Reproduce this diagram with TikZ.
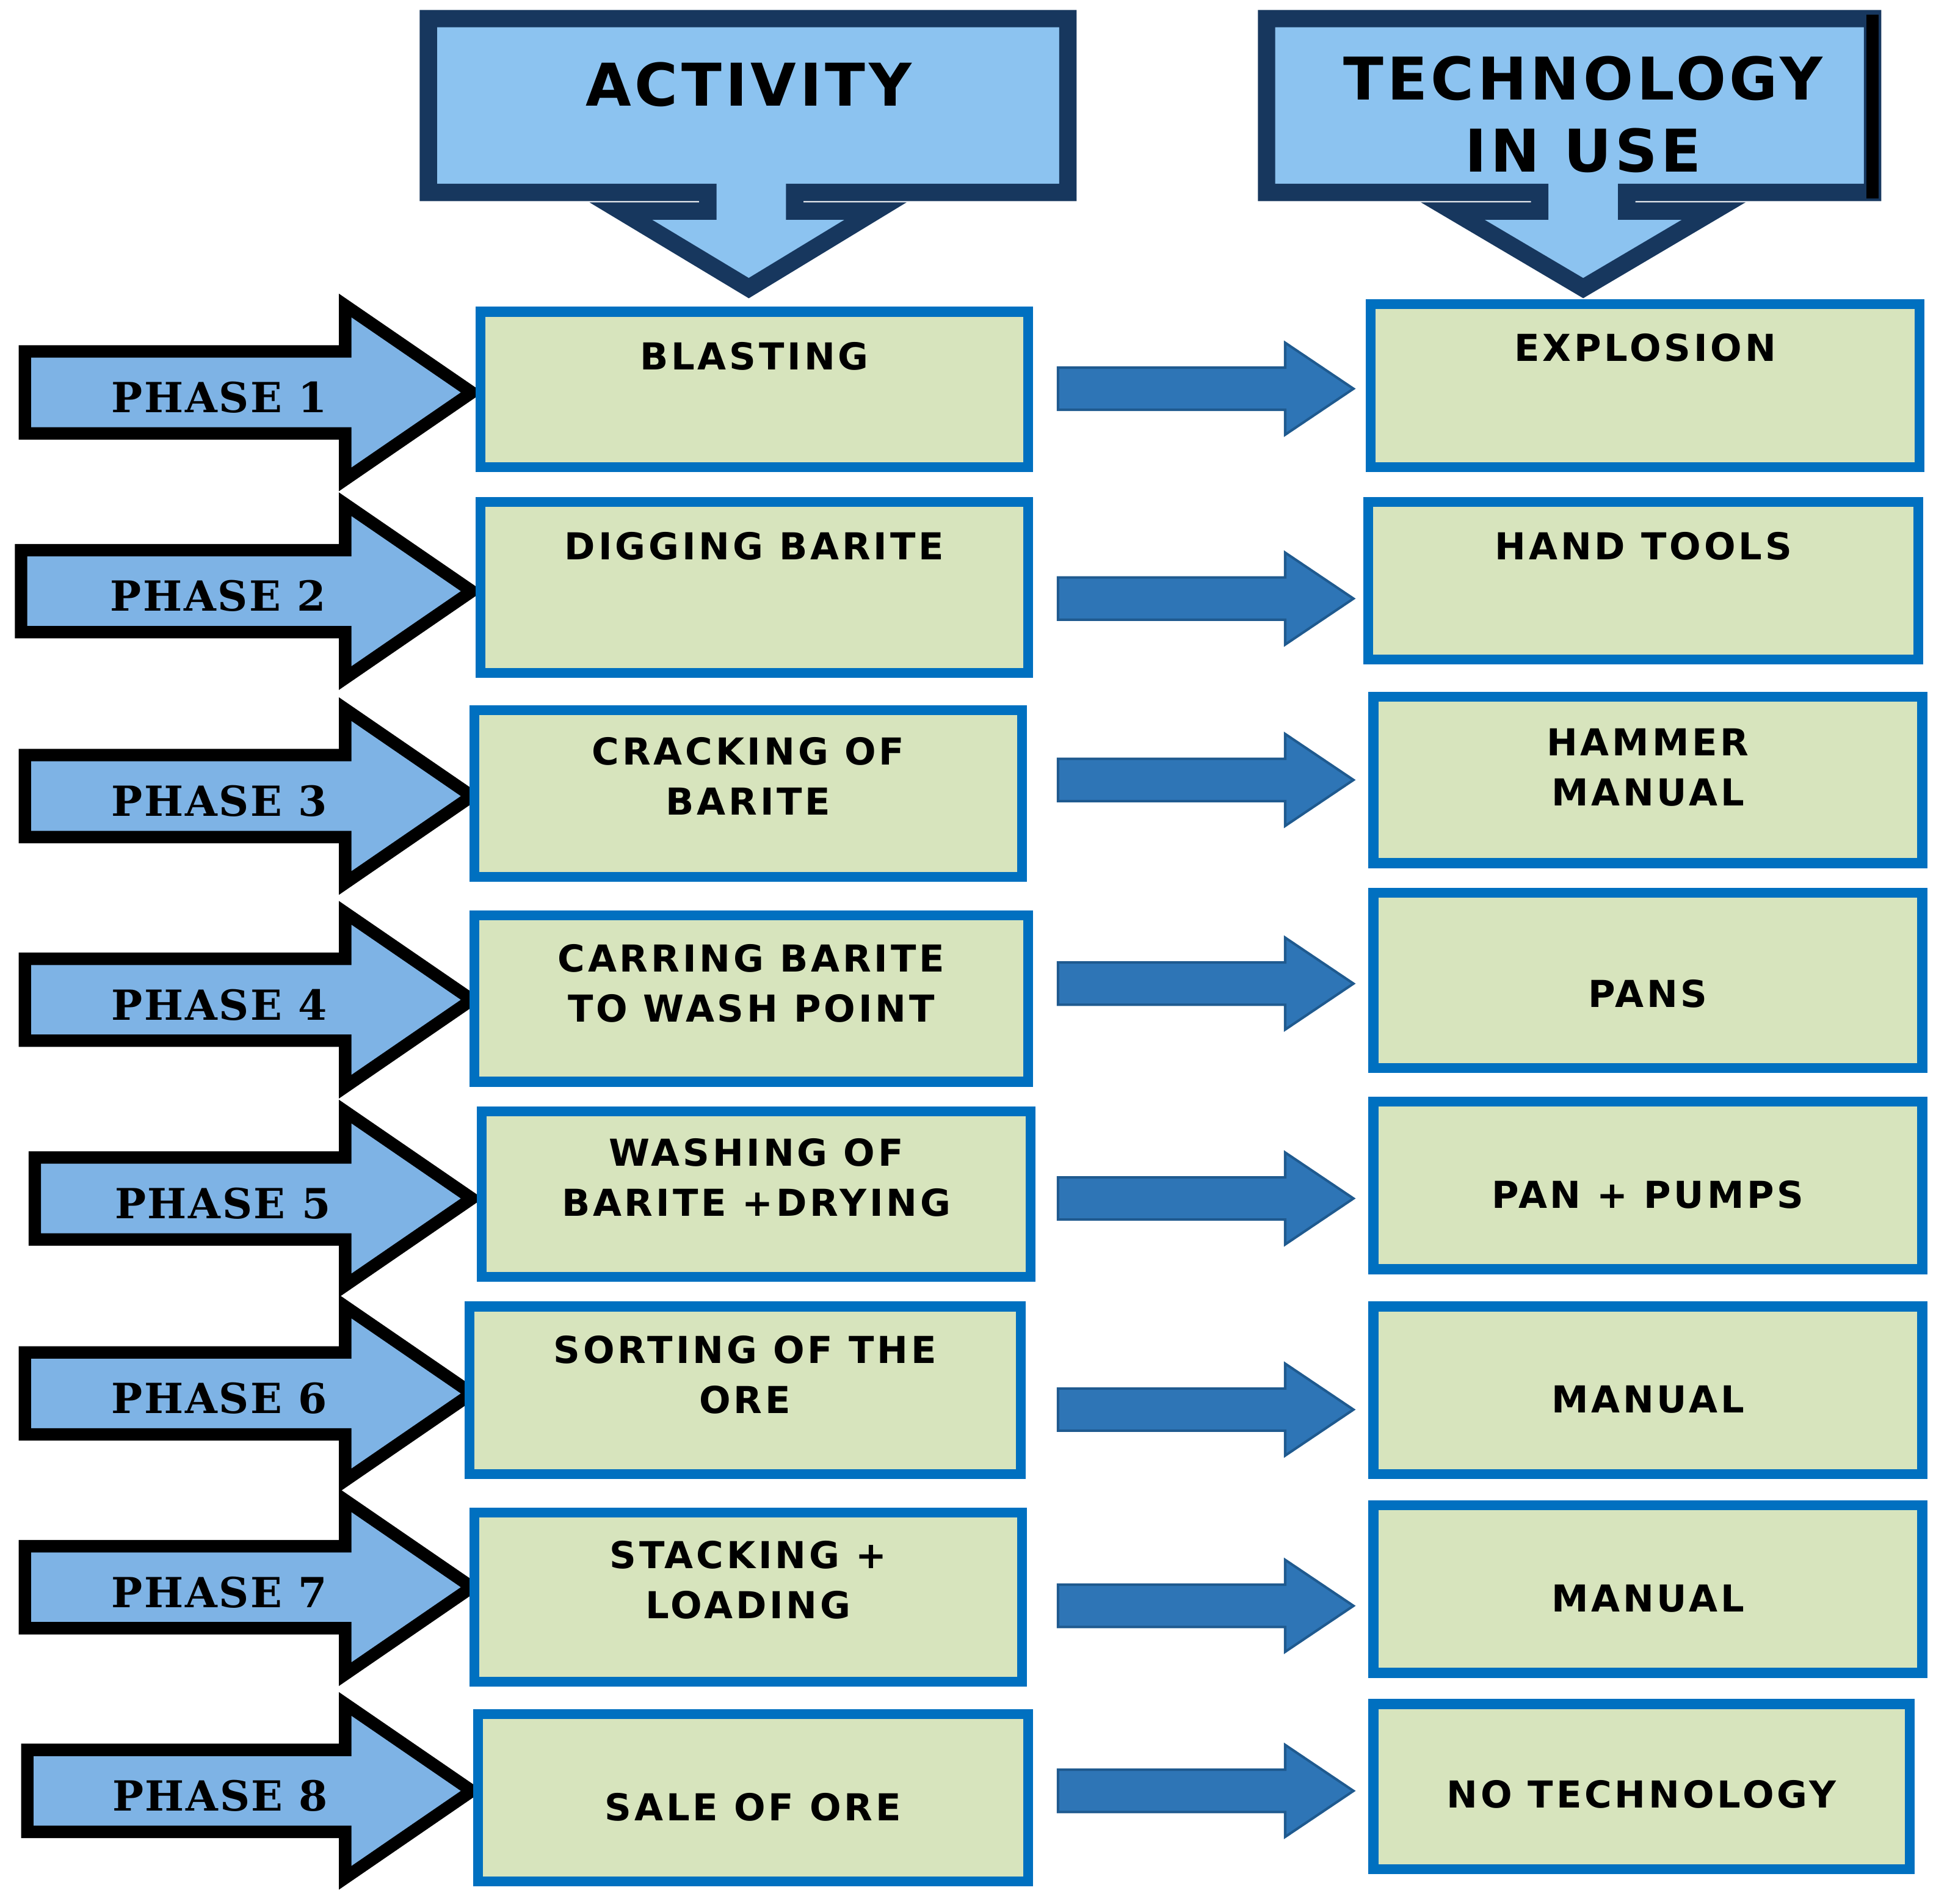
\documentclass[tikz,border=0pt]{standalone}
\usepackage{fontspec}
\setmainfont{DejaVu Sans}
\newfontfamily\phf{DejaVu Serif}
\begin{document}
\begin{tikzpicture}[x=0.02cm,y=-0.02cm,
 hdr/.style={fill=hdrfill,draw=hdrdraw,line width=0.28cm,line join=miter},
 ph/.style={fill=phfill,draw=black,line width=0.2cm,line join=miter},
 box/.style={fill=boxfill,draw=boxdraw,line width=0.16cm},
 txt/.style={font=\bfseries\fontsize{17}{23}\selectfont\addfontfeature{LetterSpace=8},align=center,text=black},
 con/.style={fill=confill,draw=condraw,line width=0.04cm,line join=miter}]
\definecolor{hdrfill}{HTML}{8CC3F0}\definecolor{hdrdraw}{HTML}{17375E}
\definecolor{phfill}{HTML}{7EB3E5}\definecolor{boxfill}{HTML}{D7E4BD}
\definecolor{boxdraw}{HTML}{0070C0}\definecolor{confill}{HTML}{2E75B6}
\definecolor{condraw}{HTML}{1F5A8F}
\useasboundingbox (0,0) rectangle (1568,1533);
% headers
\draw[hdr] (345,15)--(860,15)--(860,155)--(640,155)--(640,170)--(705,170)--(603,232)--(500,170)--(570,170)--(570,155)--(345,155)--cycle;
\node[font=\bfseries\fontsize{27}{32}\selectfont\addfontfeature{LetterSpace=6}] (h1) at (603,68) {ACTIVITY};
\draw[hdr] (1020,15)--(1508,15)--(1508,155)--(1310,155)--(1310,170)--(1380,170)--(1275,232)--(1170,170)--(1240,170)--(1240,155)--(1020,155)--cycle;
\draw[line width=0.2cm] (1508,12)--(1508,160);
\node[font=\bfseries\fontsize{27}{33}\selectfont\addfontfeature{LetterSpace=6},align=center] (h2) at (1275,92) {TECHNOLOGY\\IN USE};
% rows
\foreach \i/\y/\px/\ax/\ay/\bx/\by/\ty/\atext/\cx/\cy/\dx/\dy/\tty/\btext/\cyy in {
1/316/20/387/251/828/376/287/BLASTING/1104/245/1546/376/280/EXPLOSION/313,
2/476/17/387/404/828/542/440/DIGGING BARITE/1102/404/1545/531/440/HAND TOOLS/482,
3/641/20/382/572/823/706/625/CRACKING OF\\BARITE/1106/561/1548/695/618/HAMMER\\MANUAL/628,
4/805/20/382/737/828/871/792/CARRING BARITE\\TO WASH POINT/1106/719/1548/860/800/PANS/792,
5/965/28/388/895/830/1028/948/WASHING OF\\BARITE +DRYING/1106/887/1548/1022/962/PAN + PUMPS/965,
6/1122/20/378/1052/822/1187/1107/SORTING OF THE\\ORE/1106/1052/1548/1187/1127/MANUAL/1135,
7/1278/20/382/1218/823/1354/1272/STACKING +\\LOADING/1106/1212/1548/1347/1287/MANUAL/1293,
8/1442/22/385/1380/828/1515/1455/SALE OF ORE/1106/1372/1538/1505/1445/NO TECHNOLOGY/1442}{
 \draw[ph] (\px,\y-33)--(278,\y-33)--(278,\y-70)--(380,\y)--(278,\y+70)--(278,\y+33)--(\px,\y+33)--cycle;
 \node[font=\phf\bfseries\fontsize{19}{22}\selectfont\addfontfeature{LetterSpace=4}] (p\i) at (170+\px/3,\y+4) {PHASE \i};
 \node[box,minimum width={(\bx-\ax)*0.02cm},minimum height={(\by-\ay)*0.02cm}] (a\i) at ({(\ax+\bx)/2},{(\ay+\by)/2}) {};
 \node[txt] (at\i) at ({(\ax+\bx)/2},\ty) {\atext};
 \node[box,minimum width={(\dx-\cx)*0.02cm},minimum height={(\dy-\cy)*0.02cm}] (t\i) at ({(\cx+\dx)/2},{(\cy+\dy)/2}) {};
 \node[txt] (tt\i) at ({(\cx+\dx)/2},\tty) {\btext};
 \draw[con] (852,\cyy-17)--(1035,\cyy-17)--(1035,\cyy-37)--(1090,\cyy)--(1035,\cyy+37)--(1035,\cyy+17)--(852,\cyy+17)--cycle;
}
\end{tikzpicture}
\end{document}
